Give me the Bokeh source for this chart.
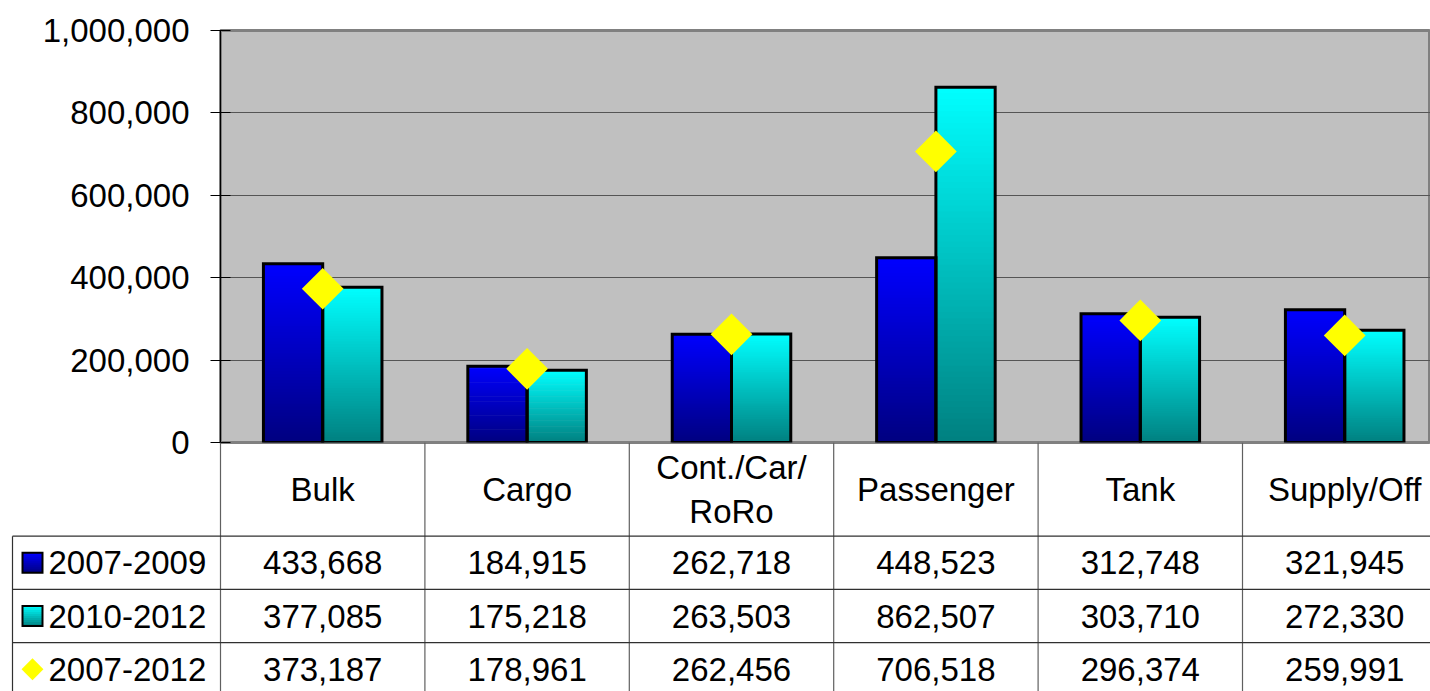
import numpy as np
from bokeh.plotting import figure
from bokeh.layouts import column
from bokeh.models import Range1d, FixedTicker, NumeralTickFormatter
from bokeh.core.properties import value
from bokeh.embed import file_html
from bokeh.resources import INLINE

# ---------------- data ----------------
categories = ["Bulk", "Cargo", "Cont./Car/\nRoRo", "Passenger", "Tank", "Supply/Off"]
series_names = ["2007-2009", "2010-2012", "2007-2012"]
s_2007_2009 = [433668, 184915, 262718, 448523, 312748, 321945]
s_2010_2012 = [377085, 175218, 263503, 862507, 303710, 272330]
s_2007_2012 = [373187, 178961, 262456, 706518, 296374, 259991]
y_ticks = [0, 200000, 400000, 600000, 800000, 1000000]

# ---------------- layout / style ----------------
FONT = "Liberation Sans"
FS = "33px"
W = 1430
FRAME_LEFT = 220
FRAME_TOP = 30
FRAME_H = 412
GAP = 22                      # room under the chart frame for the "0" tick label
TOP_H = FRAME_TOP + FRAME_H + GAP
TOTAL_H = 691
BOT_H = TOTAL_H - FRAME_TOP - FRAME_H
CAT_PX = 204.4
ROW_PX = 53.2
HEADER = 93.7 / ROW_PX
BAR_W = 0.29
N = 60

BLUE_TOP, BLUE_BOT = (0, 0, 255), (0, 0, 128)
CYAN_TOP, CYAN_BOT = (0, 255, 255), (0, 128, 128)

x_end = (W - FRAME_LEFT) / CAT_PX
centers = np.arange(len(categories)) + 0.5
bounds = np.arange(len(categories) + 1)


def mix(c_bot, c_top, f):
    r, g, b = (int(round(a + (bb - a) * f)) for a, bb in zip(c_bot, c_top))
    return "#%02x%02x%02x" % (r, g, b)


def gradient_bars(fig, lefts, rights, vals, c_top, c_bot, n=N):
    L, R, B, T, C = [], [], [], [], []
    for l, r, v in zip(lefts, rights, vals):
        for k in range(n):
            L.append(l)
            R.append(r)
            B.append(v * k / n)
            T.append(min(v, v * (k + 1.5) / n))
            C.append(mix(c_bot, c_top, (k + 0.5) / n))
    fig.quad(left=L, right=R, bottom=B, top=T, fill_color=C, line_color=None)


# ---------------- chart ----------------
p = figure(width=W, height=TOP_H, x_range=Range1d(0, x_end), y_range=Range1d(0, 1000000),
           output_backend="svg", toolbar_location=None, x_axis_location=None,
           min_border_left=FRAME_LEFT, min_border_right=0, min_border_top=FRAME_TOP,
           min_border_bottom=GAP, background_fill_color="#C0C0C0", border_fill_color="white")
p.frame_align = False
p.outline_line_color = "#808080"
p.outline_line_width = 3
p.xgrid.visible = False
p.ygrid.ticker = FixedTicker(ticks=y_ticks)
p.ygrid.grid_line_color = "#555555"
p.ygrid.grid_line_width = 1.2

ax = p.yaxis[0]
ax.ticker = FixedTicker(ticks=y_ticks)
ax.formatter = NumeralTickFormatter(format="0,0")
ax.major_label_text_font = FONT
ax.major_label_text_font_size = FS
ax.major_label_text_color = "black"
ax.major_tick_out = 10
ax.major_tick_in = 10
ax.minor_tick_out = 0
ax.minor_tick_in = 0
ax.major_label_standoff = 21
ax.axis_line_color = "black"
ax.major_tick_line_color = "black"

left1 = centers - BAR_W
right1 = centers
left2 = centers
right2 = centers + BAR_W

gradient_bars(p, left1, right1, s_2007_2009, BLUE_TOP, BLUE_BOT)
gradient_bars(p, left2, right2, s_2010_2012, CYAN_TOP, CYAN_BOT)
p.quad(left=left1, right=right1, bottom=0, top=s_2007_2009, fill_color=None,
       line_color="black", line_width=3, line_join="miter")
p.quad(left=left2, right=right2, bottom=0, top=s_2010_2012, fill_color=None,
       line_color="black", line_width=3, line_join="miter")
p.scatter(x=centers, y=s_2007_2012, marker="square", size=29.5, angle=np.pi / 4,
          fill_color="#FFFF00", line_color=None)

# ---------------- data table (transparent, pulled up over the chart's bottom strip) ----------------
x_start = -FRAME_LEFT / CAT_PX
y_bot = BOT_H / ROW_PX
t = figure(width=W, height=BOT_H, x_range=Range1d(x_start, x_end), y_range=Range1d(y_bot, 0),
           output_backend="svg", toolbar_location=None, x_axis_location=None, y_axis_location=None,
           min_border_left=0, min_border_right=0, min_border_top=0, min_border_bottom=0,
           background_fill_color=None, border_fill_color=None, margin=(-GAP, 0, 0, 0))
t.frame_align = False
t.outline_line_color = None
t.grid.visible = False

LEFT_EDGE = (12 - 220) / CAT_PX
KEY_L = (22 - 220) / CAT_PX
KEY_R = (42 - 220) / CAT_PX
KEY_C = (32 - 220) / CAT_PX
NAME_X = (48 - 220) / CAT_PX
KEY_HALF = 10 / ROW_PX

t.segment(x0=bounds, y0=0, x1=bounds, y1=y_bot, line_color="#606060", line_width=1.2)
row_tops = HEADER + np.arange(len(series_names))
t.segment(x0=LEFT_EDGE, y0=row_tops, x1=x_end, y1=row_tops, line_color="#303030", line_width=1.2)
t.segment(x0=[LEFT_EDGE], y0=[HEADER], x1=[LEFT_EDGE], y1=[y_bot], line_color="#303030",
          line_width=1.2)

t.text(x=centers, y=HEADER / 2, text=categories, text_align="center", text_baseline="middle",
       text_font=value(FONT), text_font_size=FS, text_color="black", text_line_height=1.2)

row_centers = HEADER + np.arange(len(series_names)) + 0.5
for rc, vals in zip(row_centers, [s_2007_2009, s_2010_2012, s_2007_2012]):
    t.text(x=centers, y=rc, text=[f"{v:,}" for v in vals], text_align="center",
           text_baseline="middle", text_font=value(FONT), text_font_size=FS, text_color="black")

t.text(x=NAME_X, y=row_centers, text=series_names, text_align="left", text_baseline="middle",
       text_font=value(FONT), text_font_size=FS, text_color="black")

# legend keys
for rc, (ct, cb) in zip(row_centers[:2], [(BLUE_TOP, BLUE_BOT), (CYAN_TOP, CYAN_BOT)]):
    n = 10
    top_y = rc - KEY_HALF
    h = 2 * KEY_HALF
    ys0 = [top_y + h * k / n for k in range(n)]
    ys1 = [min(rc + KEY_HALF, top_y + h * (k + 1.5) / n) for k in range(n)]
    cols = [mix(cb, ct, 1 - (k + 0.5) / n) for k in range(n)]
    t.quad(left=KEY_L, right=KEY_R, bottom=ys1, top=ys0, fill_color=cols, line_color=None)
    t.quad(left=[KEY_L], right=[KEY_R], bottom=[rc + KEY_HALF], top=[rc - KEY_HALF],
           fill_color=None, line_color="black", line_width=2, line_join="miter")
t.scatter(x=[KEY_C], y=[row_centers[2]], marker="square", size=15.5, angle=np.pi / 4,
          fill_color="#FFFF00", line_color=None)

layout = column(p, t, spacing=0)
open("out.html", "w").write(file_html(layout, INLINE))
